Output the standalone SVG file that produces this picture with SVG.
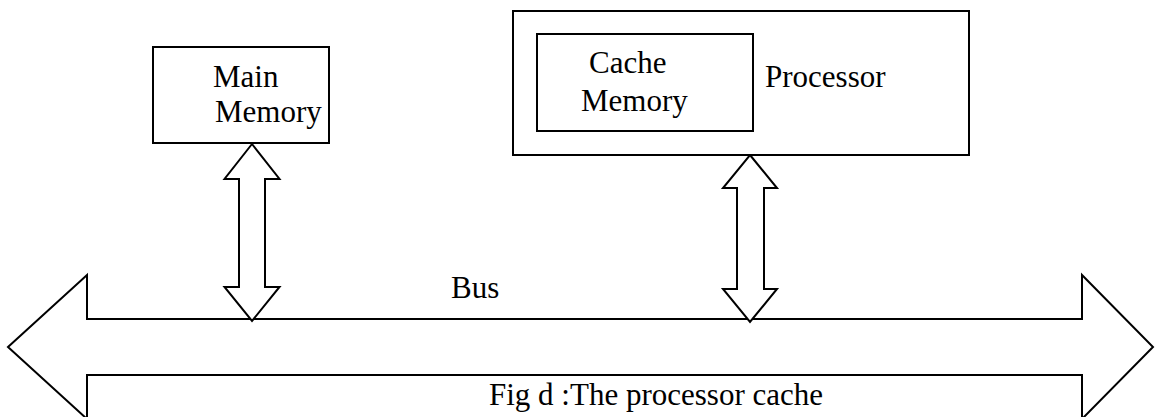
<svg xmlns="http://www.w3.org/2000/svg" width="1156" height="417" viewBox="0 0 1156 417">
<style>
.s{fill:#fff;stroke:#000;stroke-width:2;stroke-linejoin:miter}
</style>
<rect width="1156" height="417" fill="#fff"/>
<g id="connectors">
<polygon id="bus" class="s" points="8,347 87,275 87,319 1082,319 1082,275 1153,347 1082,419 1082,375 87,375 87,419"/>
<polygon id="mm-arrow" class="s" points="252,144 279.5,179 265,179 265,287 279.5,287 252,321 224.5,287 239,287 239,179 224.5,179"/>
<polygon id="proc-arrow" class="s" points="750,155 777,188 764,188 764,289 777,289 750,322 723,289 737,289 737,188 723,188"/>
</g>
<g id="bus-label">
<text x="451" y="298" font-family="Times New Roman, Liberation Serif, serif" font-size="31">Bus</text>
</g>
<g id="caption">
<text x="489" y="405" font-family="Times New Roman, Liberation Serif, serif" font-size="31">Fig d :The processor cache</text>
</g>
<g id="main-memory">
<rect class="s" x="153" y="47" width="176" height="96"/>
<text x="213" y="87" font-family="Times New Roman, Liberation Serif, serif" font-size="31">Main</text>
<text x="215" y="122" font-family="Times New Roman, Liberation Serif, serif" font-size="31">Memory</text>
</g>
<g id="processor">
<rect class="s" x="513" y="11" width="456" height="144"/>
<text x="765" y="87" font-family="Times New Roman, Liberation Serif, serif" font-size="31">Processor</text>
</g>
<g id="cache-memory">
<rect class="s" x="537" y="34" width="216" height="97"/>
<text x="589" y="73" font-family="Times New Roman, Liberation Serif, serif" font-size="31">Cache</text>
<text x="581" y="111" font-family="Times New Roman, Liberation Serif, serif" font-size="31">Memory</text>
</g>
</svg>
